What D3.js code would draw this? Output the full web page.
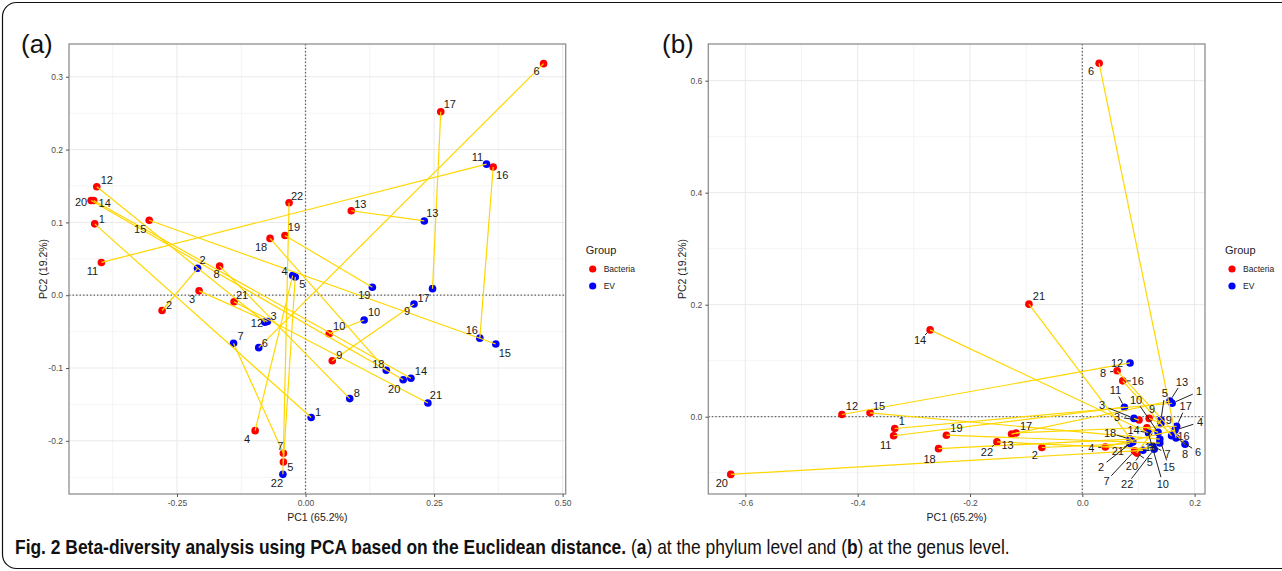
<!DOCTYPE html>
<html>
<head>
<meta charset="utf-8">
<script src="https://cdn.jsdelivr.net/npm/d3@7"></script>
<style>
  body { margin: 0; background: #fff; }
  svg text { font-family: "Liberation Sans", Arial, sans-serif; }
</style>
</head>
<body>
<svg id="fig" width="1282" height="571"></svg>
<script>
// sample ids, shared by both panels
var sampleIds = ["1","2","3","4","5","6","7","8","9","10","11","12","13","14","15","16","17","18","19","20","21","22"];
var groups = ["Bacteria", "EV"];

// (a) phylum level
var phylumBacteriaPC1 = [-0.410,-0.279,-0.207,-0.098,-0.043,0.463,-0.043,-0.167,0.052,0.046,-0.397,-0.406,0.089,-0.412,-0.304,0.365,0.263,-0.069,-0.040,-0.417,-0.139,-0.032];
var phylumBacteriaPC2 = [0.098,-0.021,0.006,-0.186,-0.229,0.318,-0.217,0.040,-0.090,-0.053,0.045,0.149,0.116,0.130,0.103,0.176,0.252,0.078,0.082,0.130,-0.009,0.127];
var phylumEvPC1 = [0.011,-0.210,-0.074,-0.025,-0.020,-0.091,-0.140,0.086,0.211,0.114,0.352,-0.079,0.231,0.205,0.370,0.339,0.247,0.157,0.130,0.190,0.238,-0.044];
var phylumEvPC2 = [-0.168,0.037,-0.036,0.027,0.025,-0.072,-0.066,-0.142,-0.012,-0.034,0.180,-0.037,0.102,-0.114,-0.067,-0.059,0.009,-0.103,0.011,-0.116,-0.148,-0.246];
var phylumXTicks = [-0.25, 0, 0.25, 0.5];
var phylumXTickLabels = ["-0.25", "0.00", "0.25", "0.50"];
var phylumXMinor = [-0.375, -0.125, 0.125, 0.375];
var phylumYTicks = [-0.2, -0.1, 0, 0.1, 0.2, 0.3];
var phylumYTickLabels = ["-0.2", "-0.1", "0.0", "0.1", "0.2", "0.3"];
var phylumYMinor = [-0.25, -0.15, -0.05, 0.05, 0.15, 0.25];

// (b) genus level
var genusBacteriaPC1 = [-0.334,-0.072,0.101,0.041,0.097,0.030,0.093,0.062,0.119,0.115,-0.336,-0.428,-0.126,-0.271,-0.378,0.072,-0.118,-0.256,-0.242,-0.626,-0.095,-0.152];
var genusBacteriaPC2 = [-0.021,-0.055,-0.006,-0.054,-0.065,0.631,-0.061,0.082,-0.003,-0.020,-0.034,0.004,-0.031,0.155,0.007,0.064,-0.029,-0.057,-0.033,-0.103,0.201,-0.045];
var genusEvPC1 = [0.160,0.085,0.092,0.165,0.140,0.167,0.125,0.183,0.140,0.135,0.075,0.085,0.156,0.118,0.138,0.159,0.168,0.085,0.138,0.108,0.090,0.128];
var genusEvPC2 = [0.024,-0.048,-0.003,-0.024,-0.006,-0.038,-0.052,-0.049,-0.012,-0.028,0.017,0.096,0.028,-0.029,-0.040,-0.034,-0.017,-0.040,-0.047,-0.060,-0.045,-0.058];
var genusXTicks = [-0.6, -0.4, -0.2, 0, 0.2];
var genusXTickLabels = ["-0.6", "-0.4", "-0.2", "0.0", "0.2"];
var genusXMinor = [-0.5, -0.3, -0.1, 0.1];
var genusYTicks = [0, 0.2, 0.4, 0.6];
var genusYTickLabels = ["0.0", "0.2", "0.4", "0.6"];
var genusYMinor = [-0.1, 0.1, 0.3, 0.5];

// label nudges in px (layout only, like ggrepel placed them)
var phylumBacteriaNudge = [[7,-5],[7,-5],[-7,8],[-8,8],[7,5],[-7,7],[-3,-7],[-3,8],[7,-6],[10,-8],[-9,9],[10,-7],[9,-7],[11,2],[-9,9],[9,8],[9,-8],[-9,9],[9,-8],[-10,1],[8,-7],[8,-7]];
var phylumEvNudge = [[7,-6],[5,-8],[6,-5],[-8,-5],[7,7],[6,-5],[7,-7],[7,-6],[-7,7],[10,-8],[-9,-7],[-8,1],[8,-8],[10,-7],[9,9],[-8,-8],[-9,9],[-8,-6],[-8,8],[-9,9],[8,-8],[-6,9]];
var genusBacteriaNudge = [[7,-7],[-7,8],[-22,-3],[-14,1],[13,9],[-8,8],[-28,30],[-14,2],[3,-9],[16,56],[-8,9],[10,-8],[-4,11],[-10,10],[9,-7],[15,0],[10,-7],[-9,10],[10,-7],[-9,9],[10,-8],[-10,10]];
var genusEvNudge = [[27,-12],[-29,23],[-32,-13],[25,-8],[4,-27],[22,14],[15,8],[0,10],[8,-3],[-22,-32],[-9,-17],[-13,0],[12,-19],[-15,-3],[9,28],[12,0],[9,-20],[-20,-6],[-9,4],[-11,16],[-15,9],[-27,35]];

var groupColor = d3.scaleOrdinal().domain(groups).range(["#ff0000", "#0000ff"]);
var svg = d3.select('#fig');

// outer figure frame (rounded corner, open to the right)
svg.append('rect')
  .attr('x', 2.5).attr('y', 2.5)
  .attr('width', 1310).attr('height', 566)
  .attr('rx', 14)
  .attr('fill', 'none').attr('stroke', '#111').attr('stroke-width', 1.2);

function drawPanel(cfg) {
  var g = svg.append('g');
  var f = cfg.frame;
  var x = d3.scaleLinear().domain(cfg.xDomain).range([f.left, f.right]);
  var y = d3.scaleLinear().domain(cfg.yDomain).range([f.bottom, f.top]);

  g.append('rect').attr('x', f.left).attr('y', f.top)
    .attr('width', f.right - f.left).attr('height', f.bottom - f.top).attr('fill', '#fff');

  // grid
  g.selectAll('.vminor').data(cfg.xMinor).join('line')
    .attr('x1', x).attr('x2', x).attr('y1', f.top).attr('y2', f.bottom)
    .attr('stroke', '#f4f4f4').attr('stroke-width', 1);
  g.selectAll('.hminor').data(cfg.yMinor).join('line')
    .attr('y1', y).attr('y2', y).attr('x1', f.left).attr('x2', f.right)
    .attr('stroke', '#f4f4f4').attr('stroke-width', 1);
  g.selectAll('.vmajor').data(cfg.xTicks).join('line')
    .attr('x1', x).attr('x2', x).attr('y1', f.top).attr('y2', f.bottom)
    .attr('stroke', '#e9e9e9').attr('stroke-width', 1);
  g.selectAll('.hmajor').data(cfg.yTicks).join('line')
    .attr('y1', y).attr('y2', y).attr('x1', f.left).attr('x2', f.right)
    .attr('stroke', '#e9e9e9').attr('stroke-width', 1);

  // zero reference lines
  g.append('line').attr('x1', x(0)).attr('x2', x(0)).attr('y1', f.top).attr('y2', f.bottom)
    .attr('stroke', '#666').attr('stroke-width', 1.3).attr('stroke-dasharray', '1.5,2');
  g.append('line').attr('y1', y(0)).attr('y2', y(0)).attr('x1', f.left).attr('x2', f.right)
    .attr('stroke', '#666').attr('stroke-width', 1.3).attr('stroke-dasharray', '1.5,2');

  var points = [];
  sampleIds.forEach(function (id, i) {
    points.push({ id: id, group: 'Bacteria', pc1: cfg.bacteriaPC1[i], pc2: cfg.bacteriaPC2[i], nudge: cfg.bacteriaNudge[i] });
  });
  sampleIds.forEach(function (id, i) {
    points.push({ id: id, group: 'EV', pc1: cfg.evPC1[i], pc2: cfg.evPC2[i], nudge: cfg.evNudge[i] });
  });

  g.selectAll('.pt').data(points).join('circle')
    .attr('cx', function (d) { return x(d.pc1); })
    .attr('cy', function (d) { return y(d.pc2); })
    .attr('r', 3.8)
    .attr('fill', function (d) { return groupColor(d.group); });

  // paired samples
  g.selectAll('.pair').data(sampleIds).join('line')
    .attr('x1', function (d, i) { return x(cfg.bacteriaPC1[i]); })
    .attr('y1', function (d, i) { return y(cfg.bacteriaPC2[i]); })
    .attr('x2', function (d, i) { return x(cfg.evPC1[i]); })
    .attr('y2', function (d, i) { return y(cfg.evPC2[i]); })
    .attr('stroke', '#ffd700').attr('stroke-width', 1.2);

  // repel segments for far labels
  points.forEach(function (d) {
    var dx = d.nudge[0], dy = d.nudge[1];
    var len = Math.sqrt(dx * dx + dy * dy);
    if (len < 14) return;
    var px = x(d.pc1), py = y(d.pc2);
    var stop = (len - 7) / len;
    g.append('line')
      .attr('x1', px + dx * 4 / len).attr('y1', py + dy * 4 / len)
      .attr('x2', px + dx * stop).attr('y2', py + dy * stop)
      .attr('stroke', '#222').attr('stroke-width', 1);
  });

  g.selectAll('.lbl').data(points).join('text')
    .attr('x', function (d) { return x(d.pc1) + d.nudge[0]; })
    .attr('y', function (d) { return y(d.pc2) + d.nudge[1]; })
    .attr('dy', '0.36em')
    .attr('text-anchor', 'middle')
    .attr('font-size', 11)
    .attr('fill', '#1a1a1a')
    .text(function (d) { return d.id; });

  // border
  g.append('rect').attr('x', f.left).attr('y', f.top)
    .attr('width', f.right - f.left).attr('height', f.bottom - f.top)
    .attr('fill', 'none').attr('stroke', '#8f8f8f').attr('stroke-width', 1.3);

  // axes
  var xAxis = g.append('g').attr('transform', 'translate(0,' + f.bottom + ')')
    .call(d3.axisBottom(x).tickValues(cfg.xTicks).tickSize(3).tickPadding(3)
      .tickFormat(function (d, i) { return cfg.xTickLabels[i]; }));
  var yAxis = g.append('g').attr('transform', 'translate(' + f.left + ',0)')
    .call(d3.axisLeft(y).tickValues(cfg.yTicks).tickSize(3).tickPadding(3)
      .tickFormat(function (d, i) { return cfg.yTickLabels[i]; }));
  [xAxis, yAxis].forEach(function (a) {
    a.select('.domain').remove();
    a.selectAll('line').attr('stroke', '#555');
    a.selectAll('text').attr('fill', '#4d4d4d').attr('font-size', 8.5)
      .attr('font-family', '"Liberation Sans", Arial, sans-serif');
  });

  g.append('text')
    .attr('x', (f.left + f.right) / 2).attr('y', f.bottom + 27)
    .attr('text-anchor', 'middle').attr('font-size', 10.5).attr('fill', '#222')
    .text('PC1 (65.2%)');
  g.append('text')
    .attr('transform', 'translate(' + (f.left - 22) + ',' + ((f.top + f.bottom) / 2) + ') rotate(-90)')
    .attr('text-anchor', 'middle').attr('font-size', 10.5).attr('fill', '#222')
    .text('PC2 (19.2%)');

  // legend
  var lg = g.append('g').attr('transform', 'translate(' + (f.right + 20) + ',' + 243 + ')');
  lg.append('text').attr('x', 0).attr('y', 11).attr('font-size', 11).attr('fill', '#222').text('Group');
  lg.selectAll('.item').data(groups).join('g')
    .attr('transform', function (d, i) { return 'translate(0,' + (26 + i * 17) + ')'; })
    .each(function (d) {
      var it = d3.select(this);
      it.append('circle').attr('cx', 7).attr('cy', 0).attr('r', 3.6).attr('fill', groupColor(d));
      it.append('text').attr('x', 18).attr('y', 0).attr('dy', '0.35em')
        .attr('font-size', 8.5).attr('fill', '#222').text(d);
    });

  svg.append('text').attr('x', cfg.tagX).attr('y', 53)
    .attr('font-size', 26).attr('fill', '#111').text(cfg.tag);
}

drawPanel({
  tag: '(a)', tagX: 21,
  frame: { left: 69, right: 565.7, top: 44, bottom: 494 },
  xDomain: [-0.460, 0.506], yDomain: [-0.273, 0.345],
  xTicks: phylumXTicks, xTickLabels: phylumXTickLabels, xMinor: phylumXMinor,
  yTicks: phylumYTicks, yTickLabels: phylumYTickLabels, yMinor: phylumYMinor,
  bacteriaPC1: phylumBacteriaPC1, bacteriaPC2: phylumBacteriaPC2,
  evPC1: phylumEvPC1, evPC2: phylumEvPC2,
  bacteriaNudge: phylumBacteriaNudge, evNudge: phylumEvNudge
});

drawPanel({
  tag: '(b)', tagX: 662,
  frame: { left: 708.3, right: 1205, top: 44, bottom: 494 },
  xDomain: [-0.666, 0.2185], yDomain: [-0.138, 0.6655],
  xTicks: genusXTicks, xTickLabels: genusXTickLabels, xMinor: genusXMinor,
  yTicks: genusYTicks, yTickLabels: genusYTickLabels, yMinor: genusYMinor,
  bacteriaPC1: genusBacteriaPC1, bacteriaPC2: genusBacteriaPC2,
  evPC1: genusEvPC1, evPC2: genusEvPC2,
  bacteriaNudge: genusBacteriaNudge, evNudge: genusEvNudge
});

// caption: condensed face imitated by squeezing a normal face horizontally
var caption = svg.append('text')
  .attr('x', 0).attr('y', 0)
  .attr('font-size', 20).attr('fill', '#111')
  .style('white-space', 'pre')
  .style('font-family', '"Liberation Sans", Arial, sans-serif');
[
  ['Fig. 2 Beta-diversity analysis using PCA based on the Euclidean distance.', true],
  [' (', false], ['a', true], [') at the phylum level and (', false], ['b', true], [') at the genus level.', false]
].forEach(function (part) {
  caption.append('tspan').attr('font-weight', part[1] ? 'bold' : 'normal').text(part[0]);
});
var capWidth = caption.node().getComputedTextLength();
caption.attr('transform', 'translate(15,554) scale(' + (995 / capWidth) + ',1)');
</script>
</body>
</html>
